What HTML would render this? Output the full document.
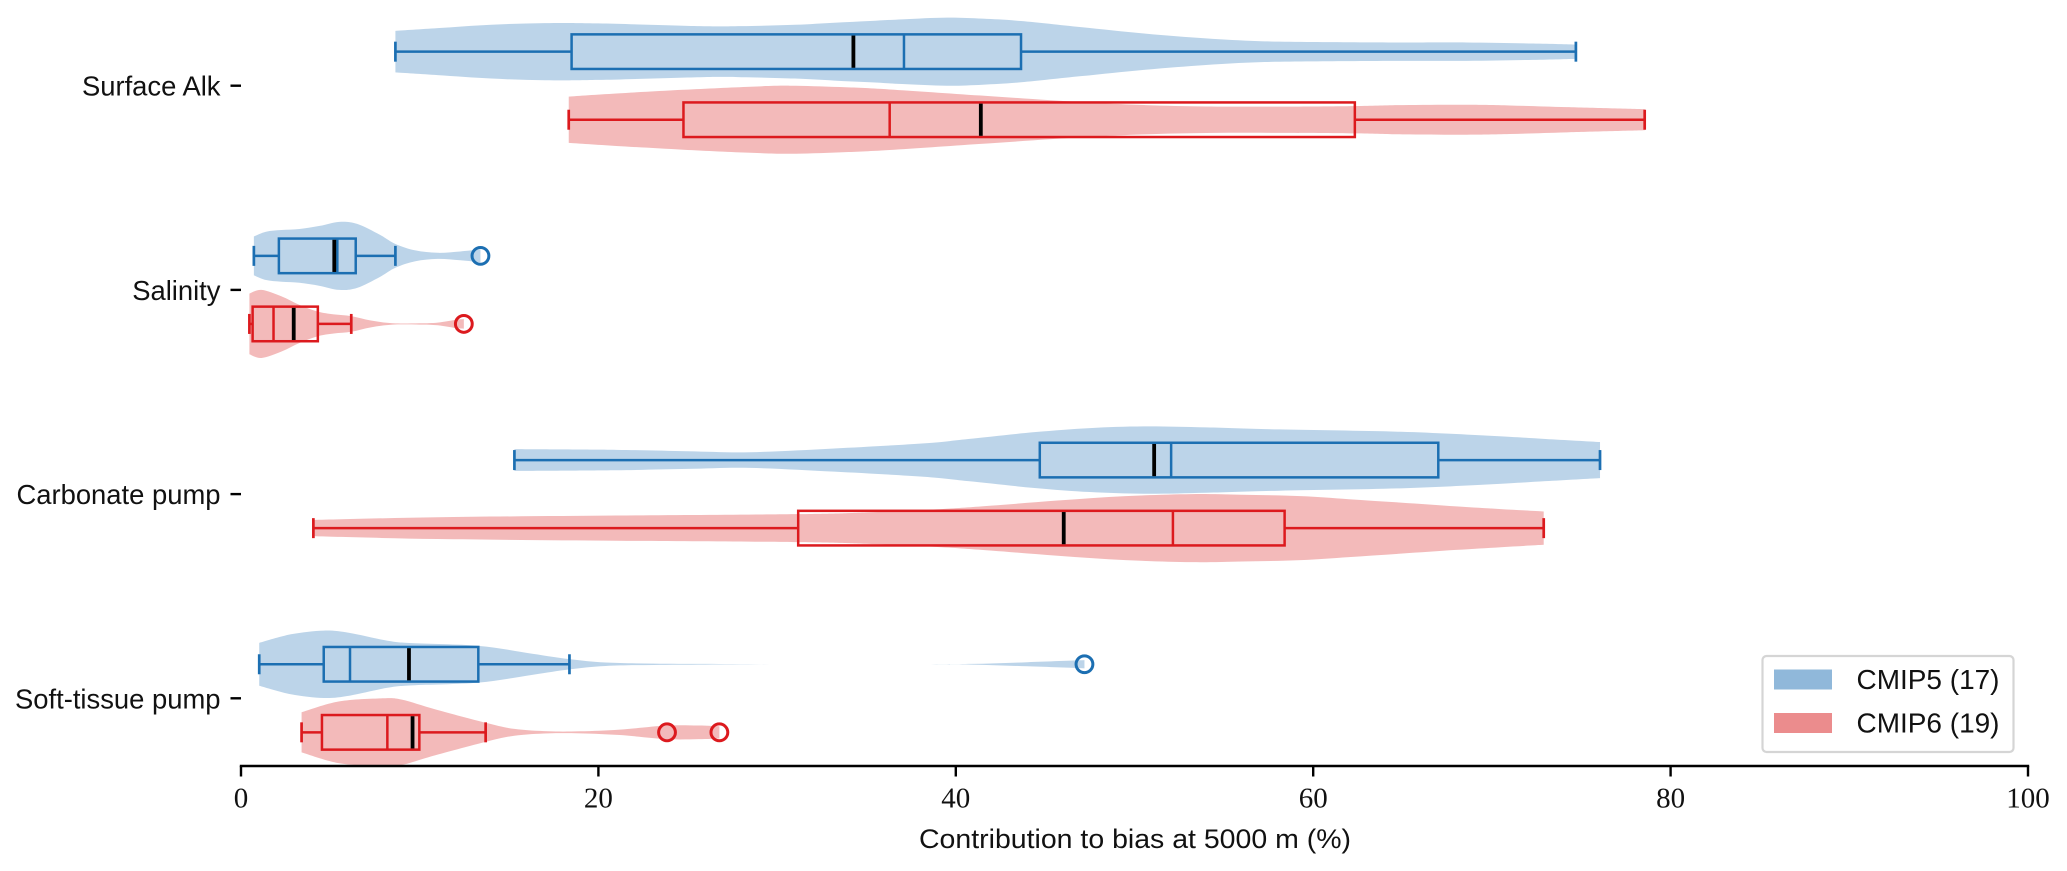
<!DOCTYPE html>
<html lang="en">
<head>
<meta charset="utf-8">
<title>Contribution to bias at 5000 m</title>
<style>
html,body{margin:0;padding:0;background:#fff;width:2067px;height:871px;overflow:hidden}
svg{display:block}
text{font-family:"Liberation Sans",sans-serif;fill:#111}
.serif{font-family:"Liberation Serif",serif}
</style>
</head>
<body>
<svg id="chart" xmlns="http://www.w3.org/2000/svg" width="2067" height="871" viewBox="0 0 2067 871"></svg>
<script>
// ---- chart data (x values in %, density is the relative violin half-width) ----
const categories = ["Surface Alk", "Salinity", "Carbonate pump", "Soft-tissue pump"];
const xTicks = [0, 20, 40, 60, 80, 100];
const seriesNames = ["CMIP5 (17)", "CMIP6 (19)"];

const cmip5WhiskerLow  = [8.64, 0.72, 15.3, 1.02];
const cmip5Q1          = [18.5, 2.12, 44.7, 4.63];
const cmip5Median      = [37.1, 5.39, 52.05, 6.1];
const cmip5Mean        = [34.27, 5.22, 51.1, 9.4];
const cmip5Q3          = [43.65, 6.42, 67.0, 13.28];
const cmip5WhiskerHigh = [74.7, 8.64, 76.05, 18.38];
const cmip5Fliers      = [[], [13.4], [], [47.2]];

const cmip6WhiskerLow  = [18.34, 0.47, 4.05, 3.39];
const cmip6Q1          = [24.76, 0.65, 31.18, 4.53];
const cmip6Median      = [36.3, 1.82, 52.15, 8.19];
const cmip6Mean        = [41.4, 2.95, 46.04, 9.6];
const cmip6Q3          = [62.33, 4.3, 58.4, 9.98];
const cmip6WhiskerHigh = [78.55, 6.17, 72.9, 13.69];
const cmip6Fliers      = [[], [12.47], [], [23.84, 26.77]];

const cmip5SurfaceGrid = [8.64,11,14,17,20,25.7,28,31,33.2,35.2,37,39.5,41.5,43.65,47,50.6,54,56.9,60,65,68.6,72.3,74.7];
const cmip5SurfaceDensity = [.61,.69,.79,.84,.83,.75,.75,.79,.85,.90,.95,1,.97,.90,.72,.53,.39,.31,.285,.27,.27,.24,.21];
const cmip6SurfaceGrid = [18.34,21,24.76,28.5,30.7,33.5,36.3,41.4,46.9,50.6,54,58.1,62.33,65,68.6,71,74.2,78.55];
const cmip6SurfaceDensity = [.68,.77,.88,.97,1,.96,.89,.71,.52,.43,.39,.385,.40,.43,.44,.42,.37,.31];

const cmip5SalinityGrid = [.72,1.4,2.27,3.27,4.4,5.5,6.5,7.77,8.64,9.76,11,12.27,13.4];
const cmip5SalinityDensity = [.57,.71,.76,.79,.88,1,.94,.62,.35,.16,.09,.13,.19];
const cmip6SalinityGrid = [.47,1.15,2.27,3.27,4.3,5.2,6.17,7.27,8.5,10,11,12,12.47];
const cmip6SalinityDensity = [.89,1,.81,.56,.36,.28,.23,.10,.02,.02,.04,.12,.14];

const cmip5CarbonateGrid = [15.3,21,25,28.5,33.2,38.2,40.7,44.4,47.5,50.6,54,58.1,64.9,70,73,76.05];
const cmip5CarbonateDensity = [.32,.30,.26,.23,.34,.49,.62,.82,.94,.99,.96,.90,.83,.71,.62,.53];
const cmip6CarbonateGrid = [4.05,11,21,31,35,39.2,42,45.7,49.5,53.2,56,59.3,62,64.9,68,70.5,72.9];
const cmip6CarbonateDensity = [.24,.32,.37,.41,.46,.56,.66,.81,.94,1,.98,.94,.85,.75,.64,.56,.49];

const cmip5SoftGrid = [1.02,2.79,4.63,6.1,8.2,9.57,13.28,16.3,18.38,20.4,23.1,26,30,34,38,40.9,44,47.2];
const cmip5SoftDensity = [.63,.88,.99,.92,.69,.62,.54,.31,.15,.05,.02,.01,0,0,0,.01,.06,.12];
const cmip6SoftGrid = [3.39,5.5,7.95,9,10.9,13.69,15.3,17.2,19,21.2,23.84,25.6,26.77];
const cmip6SoftDensity = [.59,.91,1,.96,.67,.28,.10,.03,.03,.08,.20,.20,.18];

const cmip5Grids = [cmip5SurfaceGrid, cmip5SalinityGrid, cmip5CarbonateGrid, cmip5SoftGrid];
const cmip5Densities = [cmip5SurfaceDensity, cmip5SalinityDensity, cmip5CarbonateDensity, cmip5SoftDensity];
const cmip6Grids = [cmip6SurfaceGrid, cmip6SalinityGrid, cmip6CarbonateGrid, cmip6SoftGrid];
const cmip6Densities = [cmip6SurfaceDensity, cmip6SalinityDensity, cmip6CarbonateDensity, cmip6SoftDensity];

// ---- axis functions ----
const X0 = 241, X100 = 2028, Y_FIRST = 85.7, Y_STEP = 204.2;
const AXIS_Y = 766;
const xScale = v => X0 + (X100 - X0) * v / 100;
const yScale = c => Y_FIRST + Y_STEP * c;
const GROUP_OFFSET = 1 / 6;
const VIOLIN_HALF = yScale(0.1667) - yScale(0);
const BOX_HALF = 17.3, CAP_HALF = 10;

const svg = document.getElementById("chart");
const NS = "http://www.w3.org/2000/svg";
function make(tag, attrs, parent) {
  const el = document.createElementNS(NS, tag);
  for (const k in attrs) el.setAttribute(k, attrs[k]);
  (parent || svg).appendChild(el);
  return el;
}

function curve(pts) {
  let d = "";
  for (let i = 0; i < pts.length - 1; i++) {
    const p0 = pts[Math.max(i - 1, 0)], p1 = pts[i], p2 = pts[i + 1], p3 = pts[Math.min(i + 2, pts.length - 1)];
    const c1x = p1[0] + (p2[0] - p0[0]) / 6, c1y = p1[1] + (p2[1] - p0[1]) / 6;
    const c2x = p2[0] - (p3[0] - p1[0]) / 6, c2y = p2[1] - (p3[1] - p1[1]) / 6;
    d += "C" + c1x.toFixed(2) + " " + c1y.toFixed(2) + " " + c2x.toFixed(2) + " " + c2y.toFixed(2) + " " + p2[0].toFixed(2) + " " + p2[1].toFixed(2);
  }
  return d;
}
function violinPath(grid, density, cy) {
  const top = grid.map((v, i) => [xScale(v), cy - density[i] * VIOLIN_HALF]);
  const bot = grid.map((v, i) => [xScale(v), cy + density[i] * VIOLIN_HALF]).reverse();
  return "M" + top[0][0].toFixed(2) + " " + top[0][1].toFixed(2) + curve(top) +
         "L" + bot[0][0].toFixed(2) + " " + bot[0][1].toFixed(2) + curve(bot) + "Z";
}

function drawGroup(c, offset, color, fillColor, key, grid, density, lo, q1, med, mean, q3, hi, fliers) {
  const cy = yScale(c + offset);
  const g = make("g", {});
  
  

  const violin = make("path", {d: violinPath(grid, density, cy), fill: fillColor, "fill-opacity": 0.3, stroke: "none"}, g);
  
  

  const wl = make("line", {x1: xScale(lo), x2: xScale(q1), y1: cy, y2: cy, stroke: color, "stroke-width": 2.5}, g);
  
  

  const wh = make("line", {x1: xScale(q3), x2: xScale(hi), y1: cy, y2: cy, stroke: color, "stroke-width": 2.5}, g);
  
  

  const cl = make("line", {x1: xScale(lo), x2: xScale(lo), y1: cy - CAP_HALF, y2: cy + CAP_HALF, stroke: color, "stroke-width": 2.7}, g);
  
  

  const ch = make("line", {x1: xScale(hi), x2: xScale(hi), y1: cy - CAP_HALF, y2: cy + CAP_HALF, stroke: color, "stroke-width": 2.7}, g);
  
  

  const box = make("rect", {x: xScale(q1), y: cy - BOX_HALF, width: xScale(q3) - xScale(q1), height: BOX_HALF * 2, fill: "none", stroke: color, "stroke-width": 2.5}, g);
  
  

  const m = make("line", {x1: xScale(med), x2: xScale(med), y1: cy - BOX_HALF, y2: cy + BOX_HALF, stroke: color, "stroke-width": 2.5}, g);
  
  

  const mn = make("line", {x1: xScale(mean), x2: xScale(mean), y1: cy - BOX_HALF + 1.2, y2: cy + BOX_HALF - 1.2, stroke: "#000", "stroke-width": 3.8}, g);
  
  

  fliers.forEach(v => {
    const f = make("circle", {cx: xScale(v), cy: cy, r: 8.4, fill: "none", stroke: color, "stroke-width": 3}, g);
    
    
  });
}

categories.forEach((name, c) => {
  drawGroup(c, -GROUP_OFFSET, "#1c6fb2", "#2171b5", "cmip5", cmip5Grids[c], cmip5Densities[c],
    cmip5WhiskerLow[c], cmip5Q1[c], cmip5Median[c], cmip5Mean[c], cmip5Q3[c], cmip5WhiskerHigh[c], cmip5Fliers[c]);
  drawGroup(c, GROUP_OFFSET, "#dc1a1e", "#d7191c", "cmip6", cmip6Grids[c], cmip6Densities[c],
    cmip6WhiskerLow[c], cmip6Q1[c], cmip6Median[c], cmip6Mean[c], cmip6Q3[c], cmip6WhiskerHigh[c], cmip6Fliers[c]);
});

// x axis
const axisLine = make("line", {x1: xScale(0) - 1.2, x2: xScale(100) + 1.2, y1: AXIS_Y, y2: AXIS_Y, stroke: "#000", "stroke-width": 2.4});



xTicks.forEach(t => {
  const tick = make("line", {x1: xScale(t), x2: xScale(t), y1: AXIS_Y, y2: AXIS_Y + 10.5, stroke: "#000", "stroke-width": 2.4});
  
  
  const lab = make("text", {x: xScale(t), y: 807.5, "text-anchor": "middle", "font-size": 29, class: "serif"});
  
  
  lab.textContent = String(t);
});

// y axis labels
categories.forEach((name, c) => {
  const tick = make("line", {x1: xScale(0) - 10.5, x2: xScale(0), y1: yScale(c), y2: yScale(c), stroke: "#000", "stroke-width": 2.4});
  
  
  const lab = make("text", {x: 220.5, y: yScale(c) + 10, "text-anchor": "end", "font-size": 27.4});
  
  
  lab.textContent = name;
});

const xTitle = make("text", {x: 1135, y: 848, "text-anchor": "middle", "font-size": 27, textLength: 432, lengthAdjust: "spacingAndGlyphs"});


xTitle.textContent = "Contribution to bias at 5000 m (%)";

// legend
const legend = make("g", {});



const frame = make("rect", {x: 1762.5, y: 656, width: 251, height: 96, rx: 4, ry: 4, fill: "#fff", "fill-opacity": 0.85, stroke: "#d5d5d5", "stroke-width": 2.2}, legend);



const swatchFills = ["#2171b5", "#d7191c"];
seriesNames.forEach((label, i) => {
  const top = 669.5 + i * 43.5;
  const sw = make("rect", {x: 1774, y: top, width: 58, height: 20, fill: swatchFills[i], "fill-opacity": 0.5}, legend);
  
  
  const tx = make("text", {x: 1856.5, y: top + 19.5, "font-size": 27.5, textLength: 143, lengthAdjust: "spacingAndGlyphs"}, legend);
  
  
  tx.textContent = label;
});
</script>
</body>
</html>
